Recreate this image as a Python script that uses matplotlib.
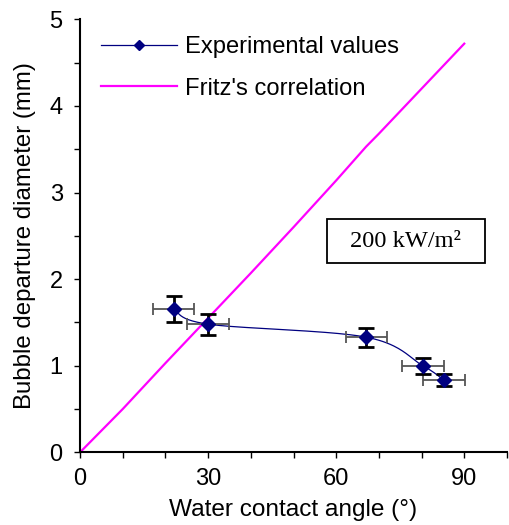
import numpy as np
import matplotlib
matplotlib.use("Agg")
import matplotlib.pyplot as plt
from matplotlib.patches import Rectangle
from matplotlib.lines import Line2D

# ---- data ----
exp_angle = [22.0, 30.0, 67.0, 80.3, 85.3]
exp_diam = [1.65, 1.48, 1.33, 1.00, 0.83]
exp_angle_err = [4.8, 4.9, 4.8, 5.0, 4.9]
exp_diam_err = [0.15, 0.12, 0.11, 0.09, 0.07]

fritz_angle = [0, 10, 20, 30, 40, 50, 60, 67, 70, 80, 90]
fritz_diam = [0, 0.50, 1.03, 1.55, 2.07, 2.60, 3.14, 3.53, 3.68, 4.20, 4.72]

x_tick_labels = ["0", "30", "60", "90"]
annotation = "200 kW/m²"

plt.rcParams['font.family'] = ['Liberation Sans', 'DejaVu Sans']

fig = plt.figure(figsize=(5.10, 5.25), dpi=100)
ax = fig.add_axes([0.157, 0.1385, 0.837, 0.8245])


def smooth(xs, ys, n=40):
    # Excel-style smoothed line: cubic Bezier with control points from neighbours
    P = np.column_stack([xs, ys]).astype(float)
    m = len(P)
    out = [P[0]]
    for i in range(m - 1):
        p0 = P[i - 1] if i > 0 else P[i]
        p1 = P[i]
        p2 = P[i + 1]
        p3 = P[i + 2] if i + 2 < m else P[i + 1]
        c1 = p1 + (p2 - p0) / 6.0
        c2 = p2 - (p3 - p1) / 6.0
        t = np.linspace(0, 1, n)[1:, None]
        seg = ((1 - t) ** 3) * p1 + 3 * ((1 - t) ** 2) * t * c1 + 3 * (1 - t) * t ** 2 * c2 + t ** 3 * p2
        out.extend(seg)
    out = np.array(out)
    return out[:, 0], out[:, 1]


navy = '#000080'
sx, sy = smooth(exp_angle, exp_diam)
ax.plot(sx, sy, color=navy, lw=0.9, zorder=3)

ax.plot(fritz_angle, fritz_diam, color='#ff00ff', lw=1.6, zorder=2)

# error bars
ax.errorbar(exp_angle, exp_diam, xerr=exp_angle_err, fmt='none', ecolor='#555555',
            elinewidth=1.3, capsize=4.5, capthick=1.3, zorder=4)
ax.errorbar(exp_angle, exp_diam, yerr=exp_diam_err, fmt='none', ecolor='black',
            elinewidth=2.0, capsize=5.5, capthick=2.0, zorder=5)
ax.plot(exp_angle, exp_diam, linestyle='none', marker='D', markersize=6.8,
        color=navy, markeredgecolor=navy, zorder=6)

ax.set_xlim(0, 100)
ax.set_ylim(0, 5)
ax.set_xticks([0, 30, 60, 90])
ax.set_xticklabels(x_tick_labels)
ax.set_xticks([10, 20, 40, 50, 70, 80, 100], minor=True)
ax.set_yticks([0, 1, 2, 3, 4, 5])
ax.set_yticks([0.5, 1.5, 2.5, 3.5, 4.5], minor=True)
ax.tick_params(which='both', direction='out', length=4.5, width=1.0, labelsize=17, color='black')
ax.tick_params(axis='x', which='major', pad=7)
ax.tick_params(axis='y', which='major', pad=8)

for s in ['top', 'right']:
    ax.spines[s].set_visible(False)
for s in ['left', 'bottom']:
    ax.spines[s].set_linewidth(1.5)

ax.set_xlabel('Water contact angle (°)', fontsize=17.6, labelpad=6)
ax.set_ylabel('Bubble departure diameter (mm)', fontsize=17.3, labelpad=10)

handles = [
    Line2D([], [], color=navy, lw=0.9, marker='D', markersize=5.5, markerfacecolor=navy),
    Line2D([], [], color='#ff00ff', lw=1.6),
]
ax.legend(handles, ['Experimental values', "Fritz's correlation"], loc='upper left',
          frameon=False, fontsize=17.1, handlelength=3.2, handletextpad=0.35,
          labelspacing=0.82, borderaxespad=0.0, bbox_to_anchor=(0.027, 0.983))

ax.add_patch(Rectangle((0.578, 0.4365), 0.37, 0.1015, transform=ax.transAxes,
                       facecolor='white', edgecolor='black', lw=1.3, zorder=7))
ax.text(0.763, 0.487, annotation, transform=ax.transAxes, ha='center', va='center',
        fontsize=17.6, family=['Liberation Serif', 'DejaVu Serif'], zorder=8)

fig.savefig('out.png', dpi=100)
